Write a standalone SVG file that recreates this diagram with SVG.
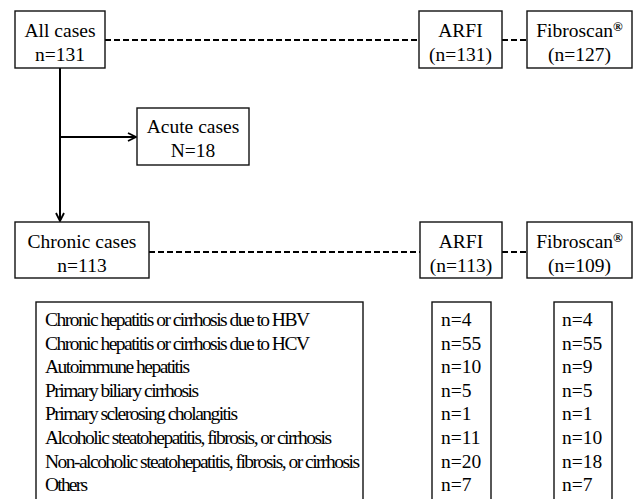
<svg xmlns="http://www.w3.org/2000/svg" width="641" height="499" viewBox="0 0 641 499">
<style>
.box{fill:#fff;stroke:#111;stroke-width:1.4}
.t{font-family:"Liberation Serif","Times New Roman",serif;font-size:19.5px;fill:#000;text-anchor:middle}
.l{font-family:"Liberation Serif","Times New Roman",serif;font-size:19.5px;fill:#000}
.dash{stroke:#000;stroke-width:2;stroke-dasharray:6 3;fill:none}
.solid{stroke:#000;stroke-width:2;fill:none}
.sup{font-size:13px;font-weight:bold}
</style>
<defs>
<marker id="arr" viewBox="0 0 10 10" refX="9" refY="5" markerWidth="10" markerHeight="10" markerUnits="userSpaceOnUse" orient="auto">
<path d="M1,1 L9,5 L1,9" fill="none" stroke="#000" stroke-width="1.8"/>
</marker>
</defs>
<g id="connectors">
<line class="dash" x1="105" y1="40" x2="419" y2="40"/>
<line class="dash" x1="502" y1="40" x2="527" y2="40"/>
<line class="dash" x1="149" y1="252" x2="420" y2="252"/>
<line class="dash" x1="502" y1="252" x2="527" y2="252"/>
<line class="solid" x1="60" y1="68" x2="60" y2="221" marker-end="url(#arr)"/>
<line class="solid" x1="60" y1="137" x2="136" y2="137" marker-end="url(#arr)"/>
</g>
<g id="all-cases">
<rect class="box" x="15" y="11" width="90" height="57"/>
<text class="t" x="60" y="37">All cases</text>
<text class="t" x="60" y="61">n=131</text>
</g>
<g id="arfi-all">
<rect class="box" x="419" y="11" width="83" height="57"/>
<text class="t" x="460.5" y="37">ARFI</text>
<text class="t" x="460.5" y="61">(n=131)</text>
</g>
<g id="fibroscan-all">
<rect class="box" x="527" y="11" width="105" height="57"/>
<text class="t" x="579.5" y="37">Fibroscan<tspan class="sup" dy="-6">®</tspan></text>
<text class="t" x="579.5" y="61">(n=127)</text>
</g>
<g id="acute">
<rect class="box" x="137" y="108" width="112" height="57"/>
<text class="t" x="193" y="133">Acute cases</text>
<text class="t" x="193" y="157">N=18</text>
</g>
<g id="chronic">
<rect class="box" x="15" y="222" width="134" height="56"/>
<text class="t" x="82" y="248">Chronic cases</text>
<text class="t" x="82" y="272">n=113</text>
</g>
<g id="arfi-chronic">
<rect class="box" x="420" y="222" width="82" height="56"/>
<text class="t" x="461" y="248">ARFI</text>
<text class="t" x="461" y="272">(n=113)</text>
</g>
<g id="fibroscan-chronic">
<rect class="box" x="527" y="222" width="105" height="56"/>
<text class="t" x="579.5" y="248">Fibroscan<tspan class="sup" dy="-6">®</tspan></text>
<text class="t" x="579.5" y="272">(n=109)</text>
</g>
<g id="etiology-list">
<rect class="box" x="36" y="302" width="327" height="210"/>
<text class="l" x="45" y="326" textLength="265" lengthAdjust="spacing">Chronic hepatitis or cirrhosis due to HBV</text>
<text class="l" x="45" y="349.6" textLength="265" lengthAdjust="spacing">Chronic hepatitis or cirrhosis due to HCV</text>
<text class="l" x="45" y="373.2" textLength="145" lengthAdjust="spacing">Autoimmune hepatitis</text>
<text class="l" x="45" y="396.8" textLength="154" lengthAdjust="spacing">Primary biliary cirrhosis</text>
<text class="l" x="45" y="420.4" textLength="193" lengthAdjust="spacing">Primary sclerosing cholangitis</text>
<text class="l" x="45" y="444" textLength="287" lengthAdjust="spacing">Alcoholic steatohepatitis, fibrosis, or cirrhosis</text>
<text class="l" x="45" y="467.6" textLength="315" lengthAdjust="spacing">Non-alcoholic steatohepatitis, fibrosis, or cirrhosis</text>
<text class="l" x="45" y="491.2" textLength="43" lengthAdjust="spacing">Others</text>
</g>
<g id="arfi-list">
<rect class="box" x="432" y="302" width="59" height="210"/>
<text class="l" x="441" y="326">n=4</text>
<text class="l" x="441" y="349.6">n=55</text>
<text class="l" x="441" y="373.2">n=10</text>
<text class="l" x="441" y="396.8">n=5</text>
<text class="l" x="441" y="420.4">n=1</text>
<text class="l" x="441" y="444">n=11</text>
<text class="l" x="441" y="467.6">n=20</text>
<text class="l" x="441" y="491.2">n=7</text>
</g>
<g id="fibroscan-list">
<rect class="box" x="554" y="302" width="58" height="210"/>
<text class="l" x="562" y="326">n=4</text>
<text class="l" x="562" y="349.6">n=55</text>
<text class="l" x="562" y="373.2">n=9</text>
<text class="l" x="562" y="396.8">n=5</text>
<text class="l" x="562" y="420.4">n=1</text>
<text class="l" x="562" y="444">n=10</text>
<text class="l" x="562" y="467.6">n=18</text>
<text class="l" x="562" y="491.2">n=7</text>
</g>
</svg>
